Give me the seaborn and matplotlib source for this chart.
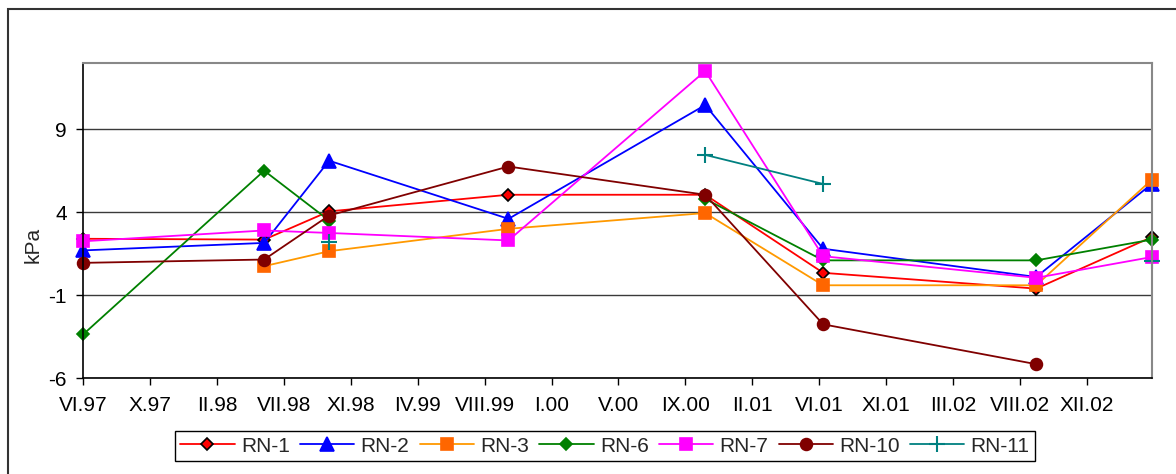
import pandas as pd
import numpy as np
import seaborn as sns
import matplotlib.pyplot as plt
from matplotlib.lines import Line2D
from matplotlib.patches import Rectangle

dates = ['1997-06-01', '1998-06-01', '1998-10-10', '1999-10-07',
         '2000-11-07', '2001-07-03', '2002-09-06', '2003-04-27']

# pressure values (kPa), nan = no reading
rn1 = [2.4, 2.35, 4.05, 5.05, 5.05, 0.35, -0.6, 2.5]
rn2 = [1.7, 2.15, 7.1, 3.6, 10.45, 1.8, 0.1, 5.7]
rn3 = [np.nan, 0.75, 1.65, 3.0, 3.95, -0.4, -0.4, 5.95]
rn6 = [-3.35, 6.5, 3.5, np.nan, 4.8, 1.1, 1.1, 2.35]
rn7 = [2.25, 2.9, 2.75, 2.3, 12.5, 1.35, 0.05, 1.3]
rn10 = [0.95, 1.15, 3.8, 6.75, 5.05, -2.75, -5.15, np.nan]
rn11 = [np.nan, np.nan, 2.2, np.nan, 7.45, 5.7, np.nan, 1.05]

names = ['RN-1', 'RN-2', 'RN-3', 'RN-6', 'RN-7', 'RN-10', 'RN-11']
tick_labels = ['VI.97', 'X.97', 'II.98', 'VII.98', 'XI.98', 'IV.99', 'VIII.99',
               'I.00', 'V.00', 'IX.00', 'II.01', 'VI.01', 'XI.01', 'III.02',
               'VIII.02', 'XII.02']

# line colour, marker, marker face, marker edge, marker size
styles = {
    'RN-1': ('#FF0000', 'D', '#FF0000', 'black', 6.5),
    'RN-2': ('#0000FF', '^', '#0000FF', '#0000FF', 10),
    'RN-3': ('#FF9900', 's', '#FF6600', '#FF6600', 9),
    'RN-6': ('#008000', 'D', '#008000', '#008000', 6.5),
    'RN-7': ('#FF00FF', 's', '#FF00FF', '#FF00FF', 9),
    'RN-10': ('#800000', 'o', '#800000', '#800000', 8.5),
    'RN-11': ('#008080', '+', '#008080', '#008080', 11),
}

# long table, with a segment id so gaps are not bridged
rows = []
for name, vals in zip(names, [rn1, rn2, rn3, rn6, rn7, rn10, rn11]):
    seg = 0
    for d, v in zip(dates, vals):
        if np.isnan(v):
            seg += 1
            continue
        rows.append({'date': d, 'kPa': v, 'series': name, 'seg': seg})
df = pd.DataFrame(rows)
df['date'] = pd.to_datetime(df['date'])

sns.set_theme(style='ticks')
plt.rcParams['font.family'] = ['Liberation Sans', 'DejaVu Sans']
plt.rcParams['axes.unicode_minus'] = False

fig = plt.figure(figsize=(11.76, 4.74), dpi=100)
ax = fig.add_axes([83.3 / 1176, 1 - 378.3 / 474, (1151.7 - 83.3) / 1176, (378.3 - 62.7) / 474])

for name in names:
    col, mk, mfc, mec, ms = styles[name]
    sub = df[df['series'] == name]
    sns.lineplot(data=sub, x='date', y='kPa', units='seg', estimator=None, sort=False,
                 color=col, marker=mk, markersize=ms, markerfacecolor=mfc,
                 markeredgecolor=mec, markeredgewidth=1.2 if mk != '+' else 1.5,
                 linewidth=1.3, legend=False, ax=ax, clip_on=False)

ax.set_ylim(-6, 13)
ax.set_yticks([-6, -1, 4, 9])
ax.set_xlim(pd.Timestamp(dates[0]), pd.Timestamp(dates[-1]))
ticks = pd.date_range(dates[0], periods=len(tick_labels), freq='135D')
ax.set_xticks(ticks)
ax.set_xticklabels(tick_labels)
ax.set_xlabel('')
ax.set_ylabel('')

ax.grid(axis='y', color='#3a3a3a', linewidth=1)
ax.grid(axis='x', visible=False)
ax.set_axisbelow(True)
for s in ['left', 'bottom']:
    ax.spines[s].set_color('black')
    ax.spines[s].set_linewidth(1.2)
for s in ['top', 'right']:
    ax.spines[s].set_color('#888888')
    ax.spines[s].set_linewidth(1.5)
ax.tick_params(axis='both', direction='out', length=5, width=1, color='black',
               labelsize=15, labelcolor='black')
ax.tick_params(axis='x', pad=8)
ax.tick_params(axis='y', pad=7)

fig.text(33 / 1176, 1 - 245 / 474, 'kPa', rotation=90, fontsize=15,
         ha='center', va='center')

handles = []
for name in names:
    col, mk, mfc, mec, ms = styles[name]
    handles.append(Line2D([], [], color=col, marker=mk, markersize=ms,
                          markerfacecolor=mfc, markeredgecolor=mec,
                          markeredgewidth=1.2 if mk != '+' else 1.5, linewidth=1.3))
leg = fig.legend(handles, names, loc='center', ncol=7,
                 bbox_to_anchor=(605 / 1176, 1 - 446 / 474),
                 bbox_transform=fig.transFigure, fontsize=15,
                 frameon=True, fancybox=False, framealpha=1,
                 handlelength=2.6, handletextpad=0.3, columnspacing=0.5,
                 borderpad=0.25, borderaxespad=0)
leg.get_frame().set_edgecolor('black')
leg.get_frame().set_linewidth(1)

# chart area border (runs past the right and bottom edges)
fig.patches.append(Rectangle((8 / 1176, -0.1), 1.2, 1.1 - 9 / 474,
                             transform=fig.transFigure, fill=False,
                             edgecolor='#333333', linewidth=1.5))

fig.savefig('out.png', dpi=100)
